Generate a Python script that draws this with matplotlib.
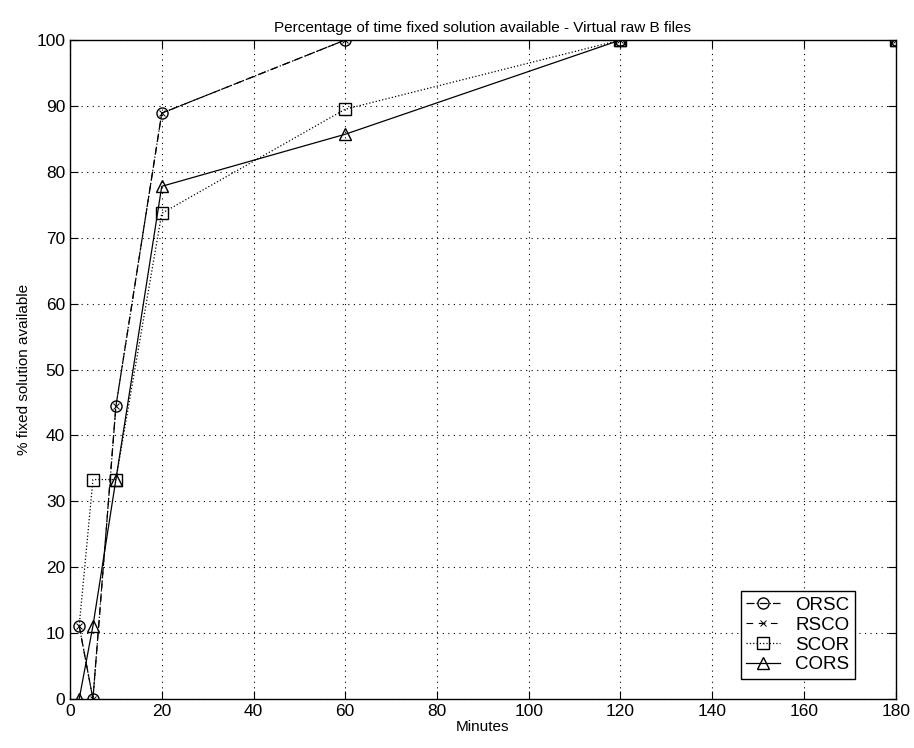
import matplotlib.pyplot as plt

plt.rcParams['font.family'] = ['Liberation Sans', 'DejaVu Sans']

# data
minutes = [2, 5, 10, 20, 60, 120, 180]
orsc = [11.1, 0.0, 44.4, 88.9, 100.0, 100.0, 100.0]
rsco = [11.1, 0.0, 44.4, 88.9, 100.0, 100.0, 100.0]
scor = [11.1, 33.3, 33.3, 73.7, 89.5, 100.0, 100.0]
cors = [0.0, 11.1, 33.3, 77.8, 85.7, 100.0, 100.0]

fig = plt.figure(figsize=(9.14, 7.48), dpi=100)
ax = fig.add_axes([0.0766, 0.0655, 0.9034, 0.881])

mk = dict(color="k", mfc="none", mec="k", ms=8, mew=1.0, lw=0.9)
ax.plot(minutes, orsc, ls="-.", marker="o", label="ORSC", **mk)
ax.plot(minutes, rsco, ls="--", marker="x", label="RSCO",
        color="k", mec="k", ms=5, mew=0.7, lw=0.8, dashes=(6, 5))
# square at 2 min sits under the circle in the original
ax.plot(minutes, scor, ls=":", marker="s", label="SCOR",
        markevery=list(range(1, len(minutes))), **mk)
ax.plot(minutes, cors, ls="-", marker="^", label="CORS", **mk)

ax.set_xlim(0, 180)
ax.set_ylim(0, 100)
ax.set_xticks(range(0, 181, 20))
ax.set_yticks(range(0, 101, 10))
ax.grid(True, ls=(0, (1, 4)), color="k", lw=0.8)
ax.tick_params(direction="in", top=True, right=True, labelsize=12.5, length=6)
for s in ax.spines.values():
    s.set_linewidth(1.0)

ax.set_title("Percentage of time fixed solution available - Virtual raw B files",
             fontsize=11, pad=6)
ax.set_xlabel("Minutes", fontsize=11, labelpad=1)
ax.set_ylabel("% fixed solution available", fontsize=11)

leg = ax.legend(loc="lower right", bbox_to_anchor=(0.962, 0.016), fontsize=13.5,
                fancybox=False, edgecolor="k", framealpha=1,
                handlelength=1.8, borderpad=0.3, labelspacing=0.15)
leg.get_frame().set_linewidth(1.0)

plt.savefig("out.png", dpi=100)
